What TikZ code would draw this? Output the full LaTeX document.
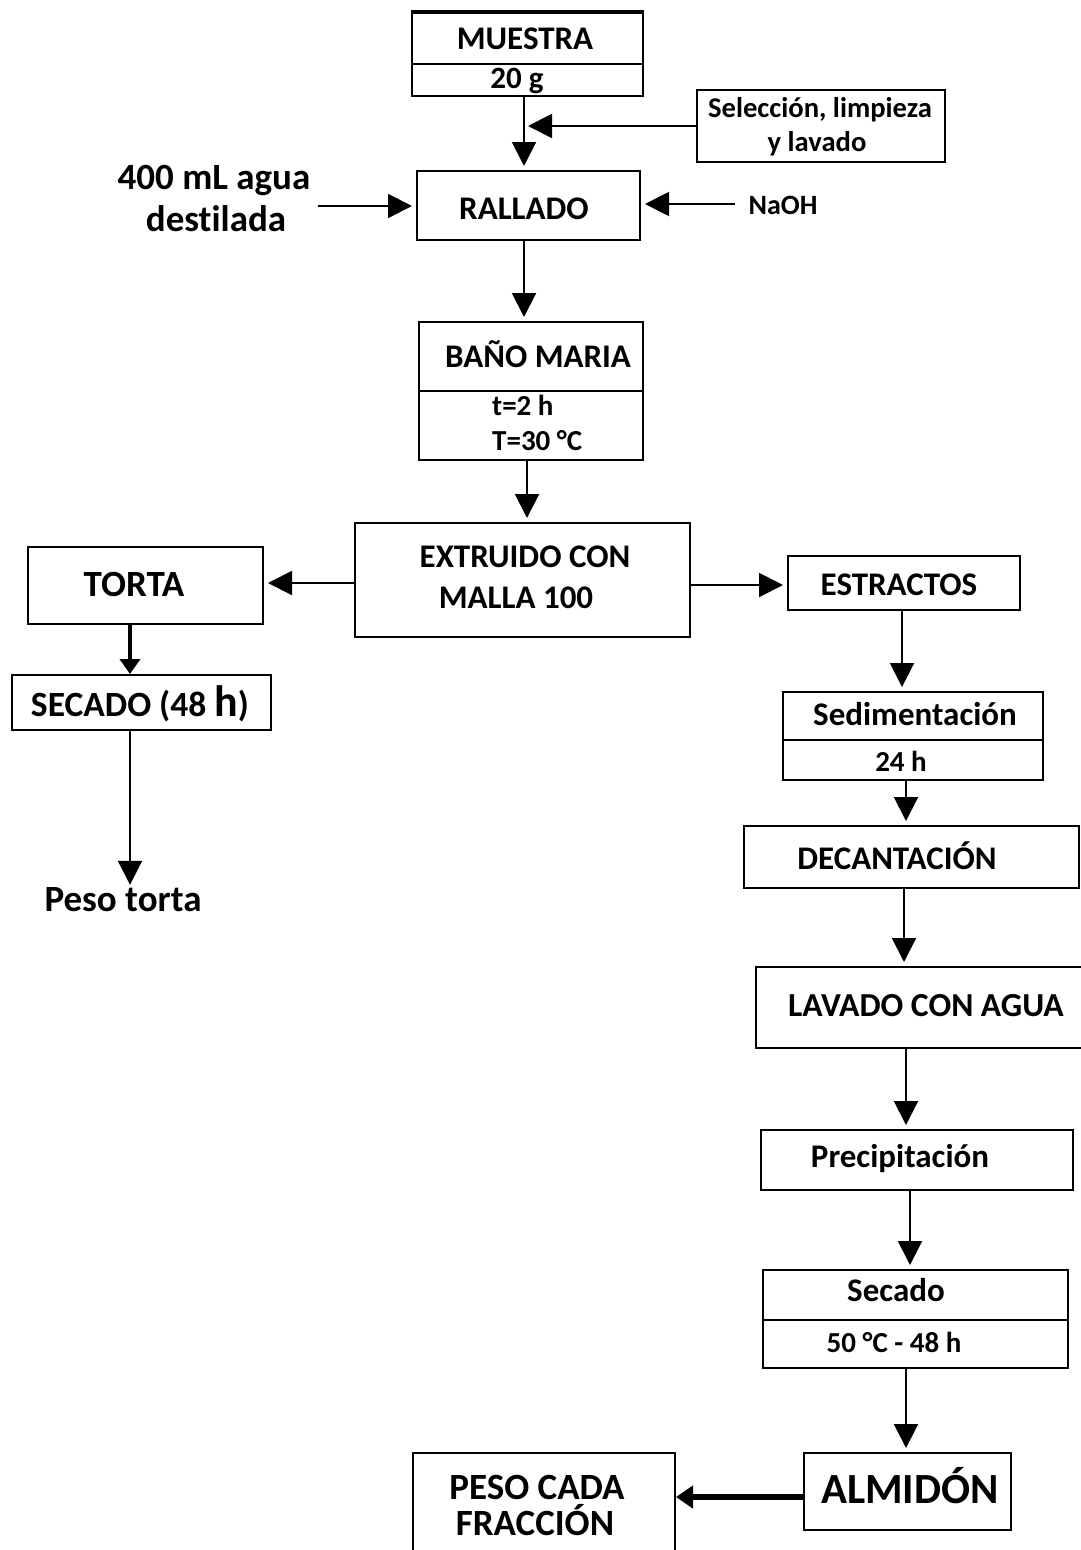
\documentclass[tikz,border=0pt]{standalone}
\usepackage{fontspec}
\setmainfont{Carlito}[RawFeature=-liga]
\usetikzlibrary{arrows.meta}
\begin{document}
\begin{tikzpicture}[x=1pt,y=-1pt,
  box/.style={draw, line width=2pt, inner sep=0pt},
  arr/.style={line width=2pt, shorten >=4pt, -{Triangle[length=24pt,width=24pt]}},
  tharr/.style={line width=4pt, -{Triangle[length=15pt,width=20pt]}},
  lbl/.style={inner sep=0pt, anchor=base, font=\fontsize{33}{40}\selectfont\bfseries},
  sm/.style={inner sep=0pt, anchor=base, font=\fontsize{29}{35}\selectfont\bfseries},
  big/.style={inner sep=0pt, anchor=base, font=\fontsize{37}{44}\selectfont\bfseries},
]
\useasboundingbox (0,0) rectangle (1081,1550);
\clip (0,0) rectangle (1081,1550);
\fill[white] (0,0) rectangle (1081,1550);

% boxes
\node[box, minimum width=231pt, minimum height=83pt] (muestra) at (527.5,54.5) {};
\node[box, minimum width=248pt, minimum height=72pt] (sel) at (821,126) {};
\node[box, minimum width=223pt, minimum height=69pt] (rallado) at (528.5,205.5) {};
\node[box, minimum width=224pt, minimum height=138pt] (bano) at (531,391) {};
\node[box, minimum width=335pt, minimum height=114pt] (extr) at (522.5,580) {};
\node[box, minimum width=235pt, minimum height=77pt] (torta) at (145.5,585.5) {};
\node[box, minimum width=259pt, minimum height=55pt] (secA) at (141.5,702.5) {};
\node[box, minimum width=232pt, minimum height=54pt] (estr) at (904,583) {};
\node[box, minimum width=260pt, minimum height=88pt] (sedim) at (913,736) {};
\node[box, minimum width=335pt, minimum height=62pt] (decan) at (911.5,857) {};
\node[box, minimum width=334pt, minimum height=81pt] (lavado) at (923,1007.5) {};
\node[box, minimum width=312pt, minimum height=60pt] (precip) at (917,1160) {};
\node[box, minimum width=305pt, minimum height=98pt] (secB) at (915.5,1319) {};
\node[box, minimum width=207pt, minimum height=77pt] (almidon) at (907.5,1491.5) {};
\node[box, minimum width=262pt, minimum height=112pt] (peso) at (544,1509) {};

% thick top edge and dividers
\draw[line width=4pt] (muestra.north west) -- (muestra.north east);
\coordinate (dM) at (0,64);
\draw[line width=2pt] (muestra.west |- dM) -- (muestra.east |- dM);
\coordinate (dB) at (0,391);
\draw[line width=2pt] (bano.west |- dB) -- (bano.east |- dB);
\coordinate (dS) at (0,740);
\draw[line width=2pt] (sedim.west |- dS) -- (sedim.east |- dS);
\coordinate (dC) at (0,1320);
\draw[line width=2pt] (secB.west |- dC) -- (secB.east |- dC);

% texts
\node[lbl] (tmuestra) at (525,49) {MUESTRA};
\node[sm, font=\fontsize{31}{36}\selectfont\bfseries] (t20g) at (517,88) {20 g};
\node[sm, font=\fontsize{28.6}{34}\selectfont\bfseries] (tsel1) at (820,117) {Selección, limpieza};
\node[sm, font=\fontsize{28.6}{34}\selectfont\bfseries] (tsel2) at (817,151) {y lavado};
\node[big] (tagua1) at (214,189) {400 mL agua};
\node[big] (tagua2) at (216,231) {destilada};
\node[lbl] (trallado) at (524,219) {RALLADO};
\node[sm, font=\fontsize{28}{34}\selectfont\bfseries] (tnaoh) at (783,214) {NaOH};
\node[lbl] (tbano) at (538,367) {BAÑO MARIA};
\node[sm, anchor=base west] (tt) at (492,415) {t=2 h};
\node[sm, anchor=base west] (tT) at (492,450) {T=30 °C};
\node[lbl] (textr1) at (525,567) {EXTRUIDO CON};
\node[lbl] (textr2) at (516,608) {MALLA 100};
\node[big] (ttorta) at (134,596) {TORTA};
\node[lbl, font=\fontsize{35.5}{40}\selectfont\bfseries] (tsecA) at (140,716) {SECADO (48 {\fontsize{44}{48}\selectfont h})};
\node[big] (pesotorta) at (123,911) {Peso torta};
\node[lbl] (testr) at (899,595) {ESTRACTOS};
\node[lbl] (tsedim) at (915,725) {Sedimentación};
\node[sm] (t24h) at (901,771) {24 h};
\node[lbl] (tdecan) at (897,869) {DECANTACIÓN};
\node[lbl, font=\fontsize{33.6}{40}\selectfont\bfseries] (tlavado) at (926,1016) {LAVADO CON AGUA};
\node[lbl] (tprecip) at (900,1167) {Precipitación};
\node[lbl] (tsecB) at (896,1301) {Secado};
\node[sm] (t50) at (894,1352) {50 °C - 48 h};
\node[lbl, font=\fontsize{43}{50}\selectfont\bfseries] (talmidon) at (910,1503) {ALMIDÓN};
\node[big] (tpeso1) at (537,1499) {PESO CADA};
\node[big] (tpeso2) at (535,1535) {FRACCIÓN};

% column / free-end coordinates
\coordinate (xA) at (524,0);
\coordinate (xB) at (527,0);
\coordinate (xT) at (130,0);
\coordinate (xE) at (902,0);
\coordinate (xS) at (906,0);
\coordinate (xD) at (904,0);
\coordinate (xP) at (910,0);
\coordinate (selEnd) at (528,126);
\coordinate (aguaStart) at (318,206);
\coordinate (naohStart) at (735,204);
\coordinate (yL) at (0,583);
\coordinate (yR) at (0,585);
\coordinate (yAl) at (0,1497);

% connectors
\draw[arr] (muestra.south -| xA) -- (rallado.north -| xA);
\draw[arr, shorten >=0pt] (sel.west) -- (selEnd);
\draw[arr] (aguaStart) -- (rallado.west |- aguaStart);
\draw[arr] (naohStart) -- (rallado.east |- naohStart);
\draw[arr] (rallado.south -| xA) -- (bano.north -| xA);
\draw[arr] (bano.south -| xB) -- (extr.north -| xB);
\draw[arr] (extr.west |- yL) -- (torta.east |- yL);
\draw[tharr] (torta.south -| xT) -- (secA.north -| xT);
\draw[arr, shorten >=2pt] (secA.south -| xT) -- (pesotorta.north -| xT);
\draw[arr] (extr.east |- yR) -- (estr.west |- yR);
\draw[arr] (estr.south -| xE) -- (sedim.north -| xE);
\draw[arr] (sedim.south -| xS) -- (decan.north -| xS);
\draw[arr] (decan.south -| xD) -- (lavado.north -| xD);
\draw[arr] (lavado.south -| xS) -- (precip.north -| xS);
\draw[arr] (precip.south -| xP) -- (secB.north -| xP);
\draw[arr] (secB.south -| xS) -- (almidon.north -| xS);
\draw[line width=5.5pt, -{Triangle[length=17pt,width=22pt]}] (almidon.west |- yAl) -- (peso.east |- yAl);
\end{tikzpicture}
\end{document}
